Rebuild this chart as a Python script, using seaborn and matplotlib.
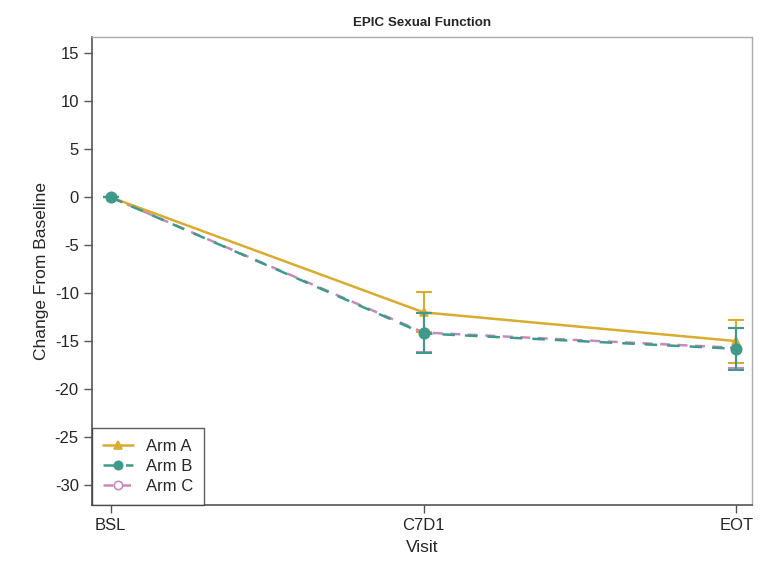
import numpy as np
import pandas as pd
import matplotlib
matplotlib.use("Agg")
import matplotlib.pyplot as plt
import seaborn as sns

visits = ["BSL", "C7D1", "EOT"]
arm_a = [0.0, -12.0, -15.0]
arm_a_lo = [0.0, -14.1, -17.3]
arm_a_hi = [0.0, -9.9, -12.8]
arm_b = [0.0, -14.2, -15.8]
arm_b_lo = [0.0, -16.25, -18.0]
arm_b_hi = [0.0, -12.1, -13.6]
arm_c = [0.0, -14.1, -15.7]
arm_c_lo = [0.0, -16.1, -17.8]
arm_c_hi = [0.0, -12.1, -13.6]

arms = ["Arm A", "Arm B", "Arm C"]
colors = {"Arm A": "#d9ab2e", "Arm B": "#3f9a8c", "Arm C": "#c88ab8"}

records = []
for arm, vals, lo, hi in [("Arm A", arm_a, arm_a_lo, arm_a_hi),
                          ("Arm B", arm_b, arm_b_lo, arm_b_hi),
                          ("Arm C", arm_c, arm_c_lo, arm_c_hi)]:
    for i, v in enumerate(visits):
        records.append({"arm": arm, "visit": v, "x": i, "y": vals[i], "lo": lo[i], "hi": hi[i]})
df = pd.DataFrame(records)

sns.set_style("white")
plt.rcParams['font.family'] = ['Liberation Sans', 'DejaVu Sans']
plt.rcParams['axes.unicode_minus'] = False

fig = plt.figure(figsize=(7.8, 5.72), dpi=100)
ax = fig.add_axes([0.118, 0.117, 0.846, 0.818])

styles = {
    "Arm A": dict(linestyle="-", marker="^", markerfacecolor=colors["Arm A"], markersize=6, zorder=3),
    "Arm C": dict(linestyle=(0, (4, 3)), marker="o", markerfacecolor="white", markersize=6, zorder=2),
    "Arm B": dict(linestyle=(0, (5, 4)), marker="o", markerfacecolor=colors["Arm B"], markersize=7.5, zorder=4),
}

for arm in ["Arm C", "Arm A", "Arm B"]:
    sub = df[df["arm"] == arm]
    st = styles[arm]
    ax.errorbar(sub["x"], sub["y"],
                yerr=[sub["y"] - sub["lo"], sub["hi"] - sub["y"]],
                fmt="none", ecolor=colors[arm], elinewidth=1.5, capsize=5.5, capthick=1.5,
                zorder=st["zorder"])
    sns.lineplot(data=sub, x="x", y="y", ax=ax, color=colors[arm], linewidth=1.8,
                 linestyle=st["linestyle"], marker=st["marker"],
                 markerfacecolor=st["markerfacecolor"], markeredgecolor=colors[arm],
                 markeredgewidth=1.2, markersize=st["markersize"], zorder=st["zorder"])

ax.set_xlim(-0.06, 2.05)
ax.set_ylim(-32.1, 16.7)
ax.set_xticks(range(len(visits)))
ax.set_xticklabels(visits)
ax.set_yticks(np.arange(-30, 16, 5))
ax.tick_params(axis="both", direction="out", length=6, width=1, color="#555555",
               labelsize=12, bottom=True, left=True)
ax.set_xlabel("Visit", fontsize=12.5, labelpad=5)
ax.set_ylabel("Change From Baseline", fontsize=12.5)
ax.set_title("EPIC Sexual Function", fontsize=9.6, fontweight="bold", pad=8)

for side in ["left", "bottom"]:
    ax.spines[side].set_color("#555555")
    ax.spines[side].set_linewidth(1.2)
for side in ["top", "right"]:
    ax.spines[side].set_color("#aaaaaa")
    ax.spines[side].set_linewidth(1.0)

handles = []
for arm in arms:
    st = styles[arm]
    h, = ax.plot([], [], color=colors[arm], linewidth=1.8, linestyle=st["linestyle"],
                 marker=st["marker"], markerfacecolor=st["markerfacecolor"],
                 markeredgecolor=colors[arm], markeredgewidth=1.2, markersize=6)
    handles.append(h)
leg = ax.legend(handles, arms, loc="lower left", bbox_to_anchor=(0, 0), borderaxespad=0,
                frameon=True, fancybox=False, fontsize=12, handlelength=1.8,
                handletextpad=0.8, borderpad=0.65, labelspacing=0.3)
leg.get_frame().set_edgecolor("#333333")
leg.get_frame().set_linewidth(1.0)

fig.savefig("out.png", dpi=100)
